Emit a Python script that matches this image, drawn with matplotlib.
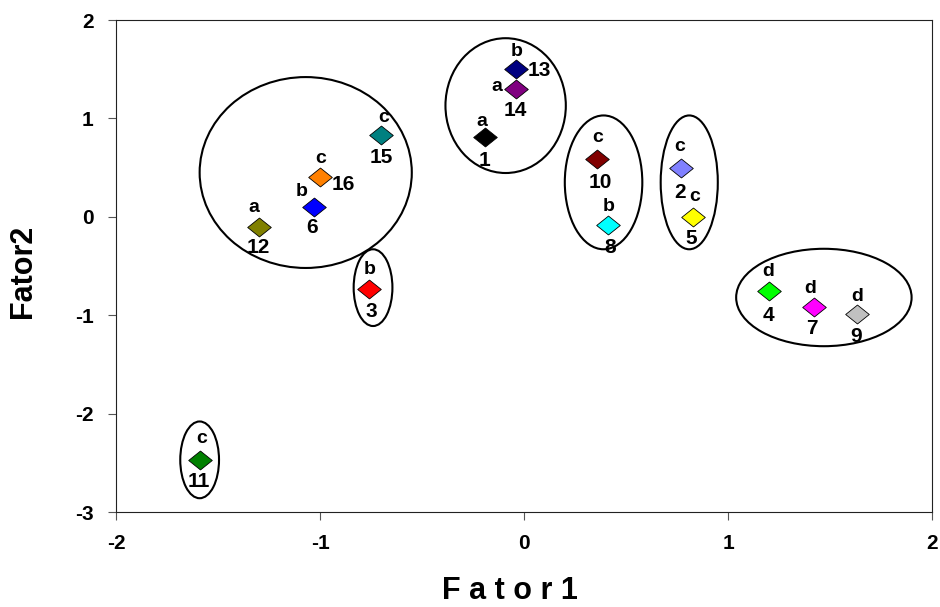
import matplotlib
matplotlib.use("Agg")
import matplotlib.pyplot as plt
from matplotlib.patches import Ellipse
from matplotlib.path import Path

plt.rcParams['font.family'] = ['Liberation Sans', 'DejaVu Sans']
plt.rcParams['font.weight'] = 'bold'

# ---- data ----
ids = ["1", "2", "3", "4", "5", "6", "7", "8", "9", "10", "11", "12", "13", "14", "15", "16"]
fator1 = [-0.19, 0.77, -0.76, 1.20, 0.83, -1.03, 1.42, 0.41, 1.63, 0.36, -1.59, -1.30, -0.04, -0.04, -0.70, -1.00]
fator2 = [0.81, 0.50, -0.73, -0.75, 0.00, 0.10, -0.92, -0.08, -0.99, 0.59, -2.47, -0.10, 1.50, 1.30, 0.83, 0.40]
groups = ["a", "c", "b", "d", "c", "b", "d", "b", "d", "c", "c", "a", "b", "a", "c", "c"]
colors = ["#000000", "#8080FF", "#FF0000", "#00FF00", "#FFFF00", "#0000FF", "#FF00FF", "#00FFFF",
          "#C0C0C0", "#800000", "#008000", "#808000", "#000080", "#800080", "#008080", "#FF8000"]

# cluster ellipses: centre x, centre y, width, height (data units)
ell_cx = [-1.07, -0.74, -1.59, -0.09, 0.39, 0.81, 1.47]
ell_cy = [0.45, -0.72, -2.47, 1.13, 0.35, 0.35, -0.82]
ell_w = [1.04, 0.19, 0.19, 0.59, 0.38, 0.28, 0.86]
ell_h = [1.94, 0.78, 0.78, 1.37, 1.36, 1.36, 0.99]

xticks = [-2, -1, 0, 1, 2]
yticks = [-3, -2, -1, 0, 1, 2]

# label offsets in pixels (letter above, id below)
let_off = {"1": (-3, 16), "2": (-1, 21), "3": (1, 19), "4": (-1, 19), "5": (1, 20), "6": (-12, 15),
           "7": (-3, 19), "8": (1, 18), "9": (1, 18), "10": (0, 21), "11": (2, 21), "12": (-5, 19),
           "13": (1, 18), "14": (-19, 2), "15": (2, 18), "16": (1, 19)}
id_off = {"1": (-1, -23), "2": (-1, -25), "3": (2, -23), "4": (0, -25), "5": (-2, -22), "6": (-2, -21),
          "7": (-2, -21), "8": (3, -23), "9": (0, -22), "10": (3, -24), "11": (-1, -22), "12": (0, -21),
          "13": (23, -1), "14": (-1, -22), "15": (0, -22), "16": (23, -7)}

fig = plt.figure(figsize=(9.4, 6.07), dpi=100)
ax = fig.add_axes([116 / 940, 1 - 512 / 607, (932 - 116) / 940, (512 - 20) / 607])

diamond = Path([(-1, 0), (0, 0.8), (1, 0), (0, -0.8), (-1, 0)],
               [Path.MOVETO, Path.LINETO, Path.LINETO, Path.LINETO, Path.CLOSEPOLY])

for cx, cy, w, h in zip(ell_cx, ell_cy, ell_w, ell_h):
    ax.add_patch(Ellipse((cx, cy), w, h, fill=False, edgecolor='black', linewidth=1.5, zorder=2))

for i, x, y, g, c in zip(ids, fator1, fator2, groups, colors):
    ax.plot([x], [y], linestyle='none', marker=diamond, markersize=17, markerfacecolor=c,
            markeredgecolor='black', markeredgewidth=0.6, zorder=3)
    ax.annotate(g, (x, y), xytext=let_off[i], textcoords='offset pixels', ha='center', va='center',
                fontsize=14, fontweight='bold', zorder=4)
    ax.annotate(i, (x, y), xytext=id_off[i], textcoords='offset pixels', ha='center', va='center',
                fontsize=15, fontweight='bold', zorder=4)

ax.set_xlim(-2, 2)
ax.set_ylim(-3, 2)
ax.set_xticks(xticks)
ax.set_yticks(yticks)
ax.set_xticklabels([str(t) for t in xticks], fontsize=15, fontweight='bold')
ax.set_yticklabels([str(t) for t in yticks], fontsize=15, fontweight='bold')
ax.tick_params(axis='both', direction='out', length=6, width=0.8, color='#555555', pad=10)
for s in ax.spines.values():
    s.set_linewidth(0.8)
    s.set_color('#222222')

ax.set_xlabel("F a t o r 1", fontsize=22, fontweight='bold')
ax.xaxis.set_label_coords(0.483, -0.160)
ax.xaxis.label.set_va('center')
ax.set_ylabel("Fator2", fontsize=22, fontweight='bold')
ax.yaxis.set_label_coords(-0.114, 0.49)
ax.yaxis.label.set_va('center')

fig.savefig("out.png", dpi=100)
